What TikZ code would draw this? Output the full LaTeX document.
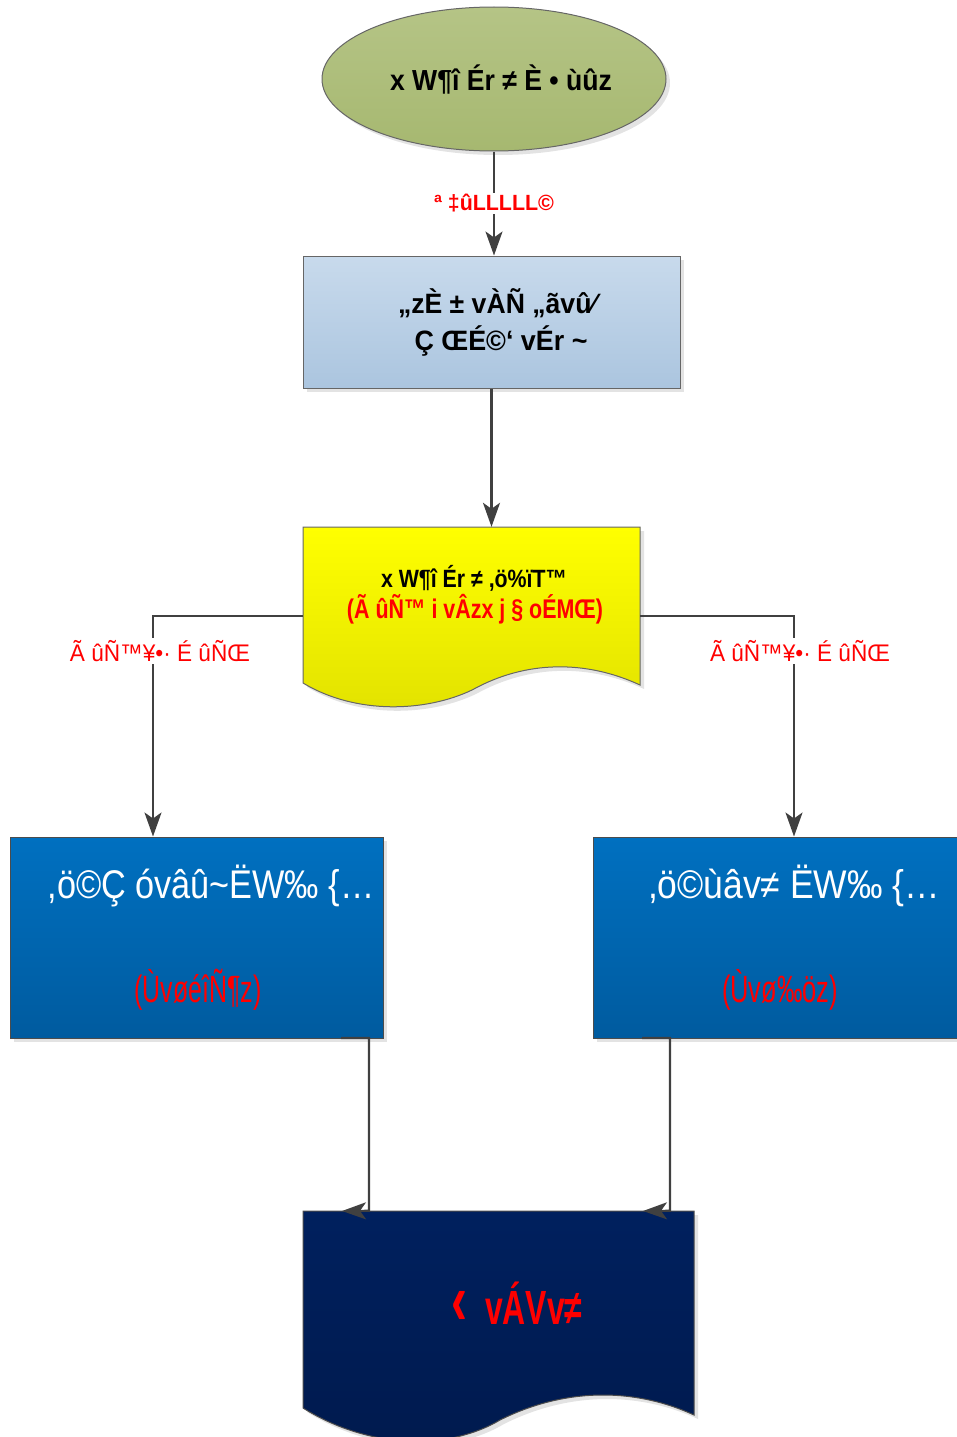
\documentclass[tikz,border=0pt]{standalone}
\usepackage{fontspec}
\usepackage{graphicx}
\setmainfont{Liberation Sans}
\usetikzlibrary{shapes.geometric,arrows.meta,shadows}
\definecolor{ellT}{HTML}{B5C486}
\definecolor{ellB}{HTML}{A6B870}
\definecolor{boxT}{HTML}{C8DAEC}
\definecolor{boxB}{HTML}{ABC5DF}
\definecolor{yelT}{HTML}{FFFF00}
\definecolor{yelB}{HTML}{E2E200}
\definecolor{bluT}{HTML}{0070C0}
\definecolor{bluB}{HTML}{005B9F}
\definecolor{navT}{HTML}{00205E}
\definecolor{navB}{HTML}{001A4E}
\definecolor{lineC}{HTML}{404040}
\definecolor{redC}{HTML}{FF0000}
\definecolor{shadC}{HTML}{E3E3E3}
\newcommand{\fw}[2]{\resizebox{#1pt}{\height}{#2}}
\begin{document}
\begin{tikzpicture}[x=1pt,y=-1pt,
  shad/.style={drop shadow={shadow xshift=4pt,shadow yshift=-4pt,fill=shadC,opacity=1}},
  txt/.style={inner sep=0pt,align=center},
  conn/.style={draw=lineC,line width=2.2pt},
  arr/.style={conn,-{Stealth[length=24pt,width=17pt,inset=6pt]}},
  lbl/.style={txt,fill=white,inner sep=2pt,text=redC}]
\useasboundingbox (0,0) rectangle (957,1437);
\clip (0,0) rectangle (957,1437);

% start ellipse
\node[ellipse, draw=gray!80!black, line width=1pt, top color=ellT, bottom color=ellB,
  minimum width=344pt, minimum height=144pt, shad] (start) at (494,79) {};
\node[txt] (starttext) at (501,80) {\fontsize{29}{30}\selectfont\bfseries\fw{222}{x W¶î Ér ≠ È • ùûz}};

% box 1
\node[rectangle, draw=gray!80!black, line width=1pt, top color=boxT, bottom color=boxB,
  minimum width=377pt, minimum height=132pt, shad] (box1) at (491.5,322) {};
\node[txt] (box1a) at (497,303) {\fontsize{28}{30}\selectfont\bfseries\fw{198}{,,zÈ ± vÀÑ ,,ãvû⁄}};
\node[txt] (box1b) at (501,341) {\fontsize{28}{30}\selectfont\bfseries\fw{173}{Ç ŒÉ©‘ vÉr \textasciitilde}};

% document 1 (yellow)
\node[inner sep=0pt, minimum width=337pt, minimum height=178pt] (doc1) at (471.5,616) {};
\fill[shadC] (307,531) -- (644,531) -- (644,689)
  .. controls (590,664) and (530,664) .. (476,694)
  .. controls (430,716) and (360,719) .. (307,687) -- cycle;
\path[draw=gray!80!black, line width=1pt, top color=yelT, bottom color=yelB]
  (303,527) -- (640,527) -- (640,685)
  .. controls (586,660) and (526,660) .. (472,690)
  .. controls (426,712) and (356,715) .. (303,683) -- cycle;
\node[txt] (doc1a) at (474,578) {\fontsize{25}{27}\selectfont\bfseries\fw{186}{x W¶î Ér ≠ ,ö\%ïT™}};
\node[txt,text=redC] (doc1b) at (475,609) {\fontsize{27}{29}\selectfont\bfseries\fw{256}{(Ã ûÑ™ i vÂzx j § oÉMŒ)}};

% blue boxes
\node[rectangle, draw=gray!60!black, line width=1pt, top color=bluT, bottom color=bluB,
  minimum width=373pt, minimum height=201pt, shad] (lbox) at (196.5,937.5) {};
\node[rectangle, draw=gray!60!black, line width=1pt, top color=bluT, bottom color=bluB,
  minimum width=374pt, minimum height=201pt, shad] (rbox) at (780,937.5) {};
\node[txt,text=white] (lboxa) at (211,886) {\fontsize{40}{42}\selectfont\fw{327}{,ö©Ç óvâû\textasciitilde ËW‰ \{…}};
\node[txt,text=redC] (lboxb) at (198,990) {\fontsize{38}{40}\selectfont\fw{127}{(ÙvøéîÑ¶z)}};
\node[txt,text=white] (rboxa) at (794,886) {\fontsize{40}{42}\selectfont\fw{292}{,ö©ùâv≠ ËW‰ \{…}};
\node[txt,text=redC] (rboxb) at (780,990) {\fontsize{38}{40}\selectfont\fw{116}{(Ùvø‰öz)}};

% document 2 (navy)
\node[inner sep=0pt, minimum width=391pt, minimum height=226pt] (doc2) at (498.5,1324) {};
\fill[shadC] (307,1215) -- (698,1215) -- (698,1419)
  .. controls (644,1394) and (574,1389) .. (504,1424)
  .. controls (454,1454) and (374,1454) .. (307,1412) -- cycle;
\path[draw=gray!60!black, line width=1pt, top color=navT, bottom color=navB]
  (303,1211) -- (694,1211) -- (694,1415)
  .. controls (640,1390) and (570,1385) .. (500,1420)
  .. controls (450,1450) and (370,1450) .. (303,1408) -- cycle;
\node[txt,text=redC] (doc2a) at (517,1303) {\fontsize{48}{50}\selectfont\bfseries\fw{131}{{\fontsize{72}{72}\selectfont ‹}\ \ vÁVv≠}};

% connectors
\draw[arr] (start.south) -- (start.south |- box1.north)
  node[lbl, midway] (lab1) {\fontsize{22}{24}\selectfont\bfseries\fw{120}{ª ‡ûLLLLL©}};
\draw[arr] (box1.south) -- (box1.south |- doc1.north);

\coordinate (lc) at (153,616);
\coordinate (rc) at (794,616);
\draw[arr] (doc1.west) -- (lc) -- (lc |- lbox.north);
\draw[arr] (doc1.east) -- (rc) -- (rc |- rbox.north);
\node[lbl] (lab2) at (160,651) {\fontsize{24}{26}\selectfont\fw{180}{Ã ûÑ™¥•· É ûÑŒ}};
\node[lbl] (lab3) at (800,651) {\fontsize{24}{26}\selectfont\fw{180}{Ã ûÑ™¥•· É ûÑŒ}};

\coordinate (ls) at (341,1038);
\coordinate (lk) at (369,1038);
\coordinate (le) at (342,1211);
\draw[arr] (ls) -- (lk) -- (lk |- doc2.north) -- (le);
\coordinate (rs) at (642,1038);
\coordinate (rk) at (670,1038);
\coordinate (re) at (643,1211);
\draw[arr] (rs) -- (rk) -- (rk |- doc2.north) -- (re);
\end{tikzpicture}
\end{document}
